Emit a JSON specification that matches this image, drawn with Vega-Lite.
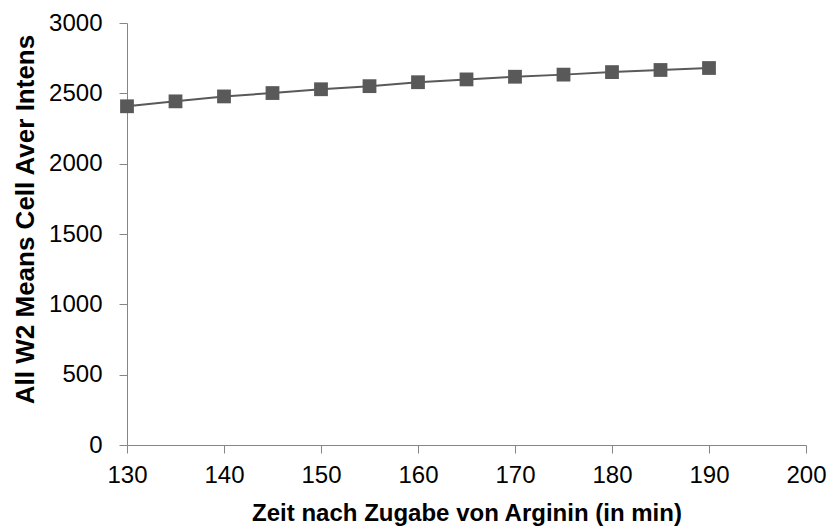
{
  "$schema": "https://vega.github.io/schema/vega-lite/v6.json",
  "autosize": "none",
  "width": 679,
  "height": 422,
  "padding": {"left": 127, "top": 23, "right": 23, "bottom": 83},
  "background": "white",
  "config": {"view": {"stroke": null}, "font": "Liberation Sans"},
  "data": {"values": [
    {"t": 130, "v": 2408},
    {"t": 135, "v": 2443},
    {"t": 140, "v": 2478},
    {"t": 145, "v": 2502},
    {"t": 150, "v": 2529},
    {"t": 155, "v": 2551},
    {"t": 160, "v": 2579},
    {"t": 165, "v": 2599},
    {"t": 170, "v": 2618},
    {"t": 175, "v": 2633},
    {"t": 180, "v": 2651},
    {"t": 185, "v": 2666},
    {"t": 190, "v": 2680}
  ]},
  "encoding": {
    "x": {"field": "t", "type": "quantitative", "scale": {"domain": [130, 200], "nice": false, "zero": false},
      "axis": {"values": [130,140,150,160,170,180,190,200], "format": "d", "grid": false, "domainColor": "#868686", "tickColor": "#868686", "tickSize": 8, "labelFontSize": 24, "labelColor": "#000", "labelPadding": 10, "labelFlush": false, "title": "Zeit nach Zugabe von Arginin (in min)", "titleFontSize": 24, "titleFontWeight": "bold", "titleColor": "#000", "titlePadding": 14}},
    "y": {"field": "v", "type": "quantitative", "scale": {"domain": [0, 3000], "nice": false},
      "axis": {"values": [0,500,1000,1500,2000,2500,3000], "format": "d", "grid": false, "domainColor": "#868686", "tickColor": "#868686", "tickSize": 8, "labelFontSize": 24, "labelColor": "#000", "labelPadding": 17, "labelFlush": false, "title": "All W2 Means Cell Aver Intens", "titleFontSize": 26, "titleFontWeight": "bold", "titleColor": "#000", "titlePadding": 10, "titleY": 196}}
  },
  "layer": [
    {"mark": {"type": "line", "color": "#595959", "strokeWidth": 2}},
    {"mark": {"type": "square", "color": "#595959", "opacity": 1, "size": 190, "filled": true}}
  ]
}
